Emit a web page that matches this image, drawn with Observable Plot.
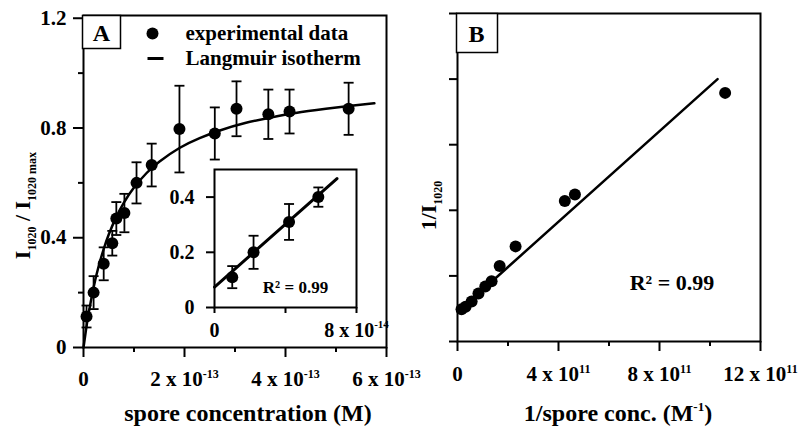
<!DOCTYPE html>
<html><head><meta charset="utf-8">
<script src="https://cdn.jsdelivr.net/npm/d3@7"></script>
<script src="https://cdn.jsdelivr.net/npm/@observablehq/plot@0.6"></script>
<style>
body{margin:0;background:#fff}
#fig{position:relative;width:806px;height:428px;overflow:hidden;background:#fff}
#fig svg{position:absolute}
</style></head><body><div id="fig"></div>
<script>
// ---------- Panel A: experimental data (concentration in units of 1e-13 M) ----------
const concA  = [0.06, 0.2, 0.4, 0.57, 0.65, 0.81, 1.05, 1.35, 1.9, 2.6, 3.03, 3.66, 4.08, 5.25];
const ratioA = [0.113, 0.20, 0.305, 0.38, 0.47, 0.49, 0.60, 0.665, 0.796, 0.78, 0.87, 0.85, 0.86, 0.87];
const errA   = [0.04, 0.06, 0.06, 0.045, 0.06, 0.07, 0.075, 0.078, 0.158, 0.095, 0.10, 0.09, 0.08, 0.095];
// Langmuir isotherm curve
const fitConc  = [0, 0.05, 0.1, 0.2, 0.3, 0.4, 0.5, 0.65, 0.8, 1.0, 1.25, 1.5, 1.9, 2.3, 2.7, 3.2, 3.7, 4.2, 4.8, 5.3, 5.76];
const fitRatio = [0, 0.065, 0.123, 0.219, 0.296, 0.359, 0.412, 0.476, 0.528, 0.583, 0.636, 0.677, 0.727, 0.763, 0.791, 0.818, 0.838, 0.855, 0.870, 0.881, 0.890];
// ---------- Inset (concentration in units of 1e-14 M) ----------
const concIn  = [1.0, 2.2, 4.2, 5.85];
const ratioIn = [0.11, 0.20, 0.31, 0.40];
const errIn   = [0.04, 0.06, 0.065, 0.035];
const inLineConc  = [0, 6.9];
const inLineRatio = [0.074, 0.467];
// ---------- Panel B (1/conc in units of 1e11 M^-1) ----------
const invConcB = [0.16, 0.32, 0.56, 0.83, 1.1, 1.35, 1.67, 2.3, 4.25, 4.65, 10.6];
const invIB    = [0.49, 0.53, 0.61, 0.73, 0.84, 0.92, 1.15, 1.45, 2.14, 2.24, 3.79];
const lineBConc = [0.1, 10.3];
const lineBInv  = [0.48, 4.0];
// ---------- ticks & labels ----------
const xTicksA = [0, 2, 4, 6], xMinorA = [1, 3, 5];
const yTicksA = [0, 0.4, 0.8, 1.2], yMinorA = [0.2, 0.6, 1.0];
const xTicksIn = [0, 4, 8], yTicksIn = [0, 0.2, 0.4];
const xTicksB = [0, 4, 8, 12], xMinorB = [2, 6, 10];
const yTicksB = [0, 1, 2, 3, 4, 5];
const expA = "-13", expIn = "-14", expB = "11";
const legendLabels = ["experimental data", "Langmuir isotherm"];
const xTitleA = "spore concentration (M)", yTitleA = "I_{1020} / I_{1020 max}";
const xTitleB = "1/spore conc. (M^{-1})", yTitleB = "1/I_{1020}";
const r2Text = "R² = 0.99";

const dataA = concA.map((x, i) => ({x, y: ratioA[i], e: errA[i]}));
const fitA = fitConc.map((x, i) => ({x, y: fitRatio[i]}));
const dataIn = concIn.map((x, i) => ({x, y: ratioIn[i], e: errIn[i]}));
const lineIn = inLineConc.map((x, i) => ({x, y: inLineRatio[i]}));
const dataB = invConcB.map((x, i) => ({x, y: invIB[i]}));
const lineB = lineBConc.map((x, i) => ({x, y: lineBInv[i]}));

const sci = (exp) => d => d === 0 ? "0" : `${d} x 10^{${exp}}`;
const dec = d => d === 0 ? "0" : String(d);
const blank = () => "";
const capSym = {draw(ctx) { ctx.moveTo(-5, 0); ctx.lineTo(5, 0); }};
const dashSym = {draw(ctx) { ctx.rect(-8, -1.5, 16, 3); }};
const boxSym = (w, h) => ({draw(ctx) { ctx.rect(-1, 0, w, h); }});
const baseStyle = {fontFamily: "'Liberation Serif','Times New Roman',serif", fontWeight: "bold", fontSize: "21px", background: "transparent", color: "black", overflow: "visible"};

function errorMarks(data) {
  return [
    Plot.ruleX(data, {x: "x", y1: d => d.y - d.e, y2: d => d.y + d.e, strokeWidth: 1.8}),
    Plot.dot(data, {x: "x", y: d => d.y + d.e, symbol: capSym, stroke: "black", strokeWidth: 1.8}),
    Plot.dot(data, {x: "x", y: d => d.y - d.e, symbol: capSym, stroke: "black", strokeWidth: 1.8})
  ];
}

const plotA = Plot.plot({
  width: 400, height: 428, marginLeft: 83, marginRight: 14, marginTop: 15, marginBottom: 81,
  x: {domain: [0, 6]}, y: {domain: [0, 1.21]},
  style: baseStyle,
  marks: [
    Plot.frame({stroke: "black", strokeWidth: 2}),
    Plot.axisX({ticks: xTicksA, tickSize: 10, tickPadding: 14, strokeWidth: 2, tickFormat: sci(expA), label: null, fontSize: 21}),
    Plot.axisX({ticks: xMinorA, tickSize: 5, strokeWidth: 2, tickFormat: blank, label: null}),
    Plot.axisY({ticks: yTicksA, tickSize: 10, tickPadding: 7, strokeWidth: 2, tickFormat: dec, label: null, fontSize: 21}),
    Plot.axisY({ticks: yMinorA, tickSize: 5, strokeWidth: 2, tickFormat: blank, label: null}),
    Plot.line(fitA, {x: "x", y: "y", curve: "natural", strokeWidth: 2.5}),
    ...errorMarks(dataA),
    Plot.dot(dataA, {x: "x", y: "y", r: 6, fill: "black"}),
    Plot.dot([0], {frameAnchor: "top-left", symbol: boxSym(38, 33), fill: "white", stroke: "black", strokeWidth: 1.5}),
    Plot.text(["A"], {frameAnchor: "top-left", dx: 18, dy: 18, text: d => d, fontSize: 24, textAnchor: "middle", lineAnchor: "middle"}),
    Plot.dot([0], {frameAnchor: "top-left", dx: 69, dy: 18, r: 6, fill: "black"}),
    Plot.dot([0], {frameAnchor: "top-left", dx: 72, dy: 43, symbol: dashSym, fill: "black"}),
    Plot.text([legendLabels[0]], {frameAnchor: "top-left", dx: 102, dy: 18, text: d => d, textAnchor: "start", lineAnchor: "middle", fontSize: 21}),
    Plot.text([legendLabels[1]], {frameAnchor: "top-left", dx: 102, dy: 43, text: d => d, textAnchor: "start", lineAnchor: "middle", fontSize: 21}),
    Plot.text([xTitleA], {frameAnchor: "bottom", dx: 13, dy: 66, text: d => d, fontSize: 24, textAnchor: "middle", lineAnchor: "middle"}),
    Plot.text([yTitleA], {frameAnchor: "left", dx: -61, dy: 24, rotate: -90, text: d => d, fontSize: 22, textAnchor: "middle", lineAnchor: "middle"})
  ]
});

const plotIn = Plot.plot({
  width: 200, height: 190, marginLeft: 34, marginRight: 24, marginTop: 9, marginBottom: 43,
  x: {domain: [0, 8]}, y: {domain: [0, 0.5]},
  style: baseStyle,
  marks: [
    Plot.frame({fill: "white", stroke: "black", strokeWidth: 2}),
    Plot.axisX({ticks: xTicksIn, tickSize: 6, tickPadding: 9, strokeWidth: 2, tickFormat: d => d === 4 ? "" : sci(expIn)(d), label: null, fontSize: 20}),
    Plot.axisY({ticks: yTicksIn, tickSize: 8, tickPadding: 12, strokeWidth: 2, tickFormat: dec, label: null, fontSize: 20}),
    Plot.line(lineIn, {x: "x", y: "y", strokeWidth: 3}),
    ...errorMarks(dataIn),
    Plot.dot(dataIn, {x: "x", y: "y", r: 6, fill: "black"}),
    Plot.text([r2Text], {frameAnchor: "bottom", dx: 10, dy: -20, text: d => d, fontSize: 17, textAnchor: "middle", lineAnchor: "middle"})
  ]
});

const plotB = Plot.plot({
  width: 406, height: 428, marginLeft: 57, marginRight: 46, marginTop: 13, marginBottom: 87,
  x: {domain: [0, 12]}, y: {domain: [0, 5]},
  style: baseStyle,
  marks: [
    Plot.frame({stroke: "black", strokeWidth: 2}),
    Plot.axisX({ticks: xTicksB, tickSize: 10, tickPadding: 15, strokeWidth: 2, tickFormat: d => d === 0 ? "0" : `${d} x 10^{${expB}}`, label: null, fontSize: 21}),
    Plot.axisX({ticks: xMinorB, tickSize: 5, strokeWidth: 2, tickFormat: blank, label: null}),
    Plot.axisY({ticks: yTicksB, tickSize: 8, strokeWidth: 2, tickFormat: blank, label: null}),
    Plot.line(lineB, {x: "x", y: "y", strokeWidth: 2.5}),
    Plot.dot(dataB, {x: "x", y: "y", r: 6, fill: "black"}),
    Plot.dot([0], {frameAnchor: "top-left", symbol: boxSym(41, 39), fill: "white", stroke: "black", strokeWidth: 1.5}),
    Plot.text(["B"], {frameAnchor: "top-left", dx: 19, dy: 21, text: d => d, fontSize: 24, textAnchor: "middle", lineAnchor: "middle"}),
    Plot.text([r2Text], {frameAnchor: "bottom", dx: 63, dy: -59, text: d => d, fontSize: 22, textAnchor: "middle", lineAnchor: "middle"}),
    Plot.text([xTitleB], {frameAnchor: "bottom", dx: 9, dy: 72, text: d => d, fontSize: 24, textAnchor: "middle", lineAnchor: "middle"}),
    Plot.text([yTitleB], {frameAnchor: "left", dx: -29, dy: 28, rotate: -90, text: d => d, fontSize: 22, textAnchor: "middle", lineAnchor: "middle"})
  ]
});

function richify(svg) {
  d3.select(svg).selectAll("text").each(function() {
    const s = this.textContent;
    if (!/[\^_]\{/.test(s)) return;
    const fs = parseFloat(getComputedStyle(this).fontSize) || 20;
    const sel = d3.select(this);
    sel.text(null);
    const re = /([\^_])\{([^}]*)\}/g;
    let last = 0, m, shift = 0;
    const add = (t, kind) => {
      if (!t) return;
      const target = kind === "^" ? -0.42 * fs : kind === "_" ? 0.3 * fs : 0;
      const ts = sel.append("tspan").text(t);
      if (target !== shift) { ts.attr("dy", target - shift); shift = target; }
      if (kind) ts.attr("font-size", Math.round(fs * 0.55));
    };
    while ((m = re.exec(s))) { add(s.slice(last, m.index), null); add(m[2], m[1]); last = re.lastIndex; }
    add(s.slice(last), null);
  });
}

const fig = document.getElementById("fig");
[[plotA, 0, 0], [plotB, 400, 0], [plotIn, 180, 160]].forEach(([p, l, t]) => {
  p.style.left = l + "px"; p.style.top = t + "px";
  fig.appendChild(p);
  richify(p);
});
</script></body></html>
